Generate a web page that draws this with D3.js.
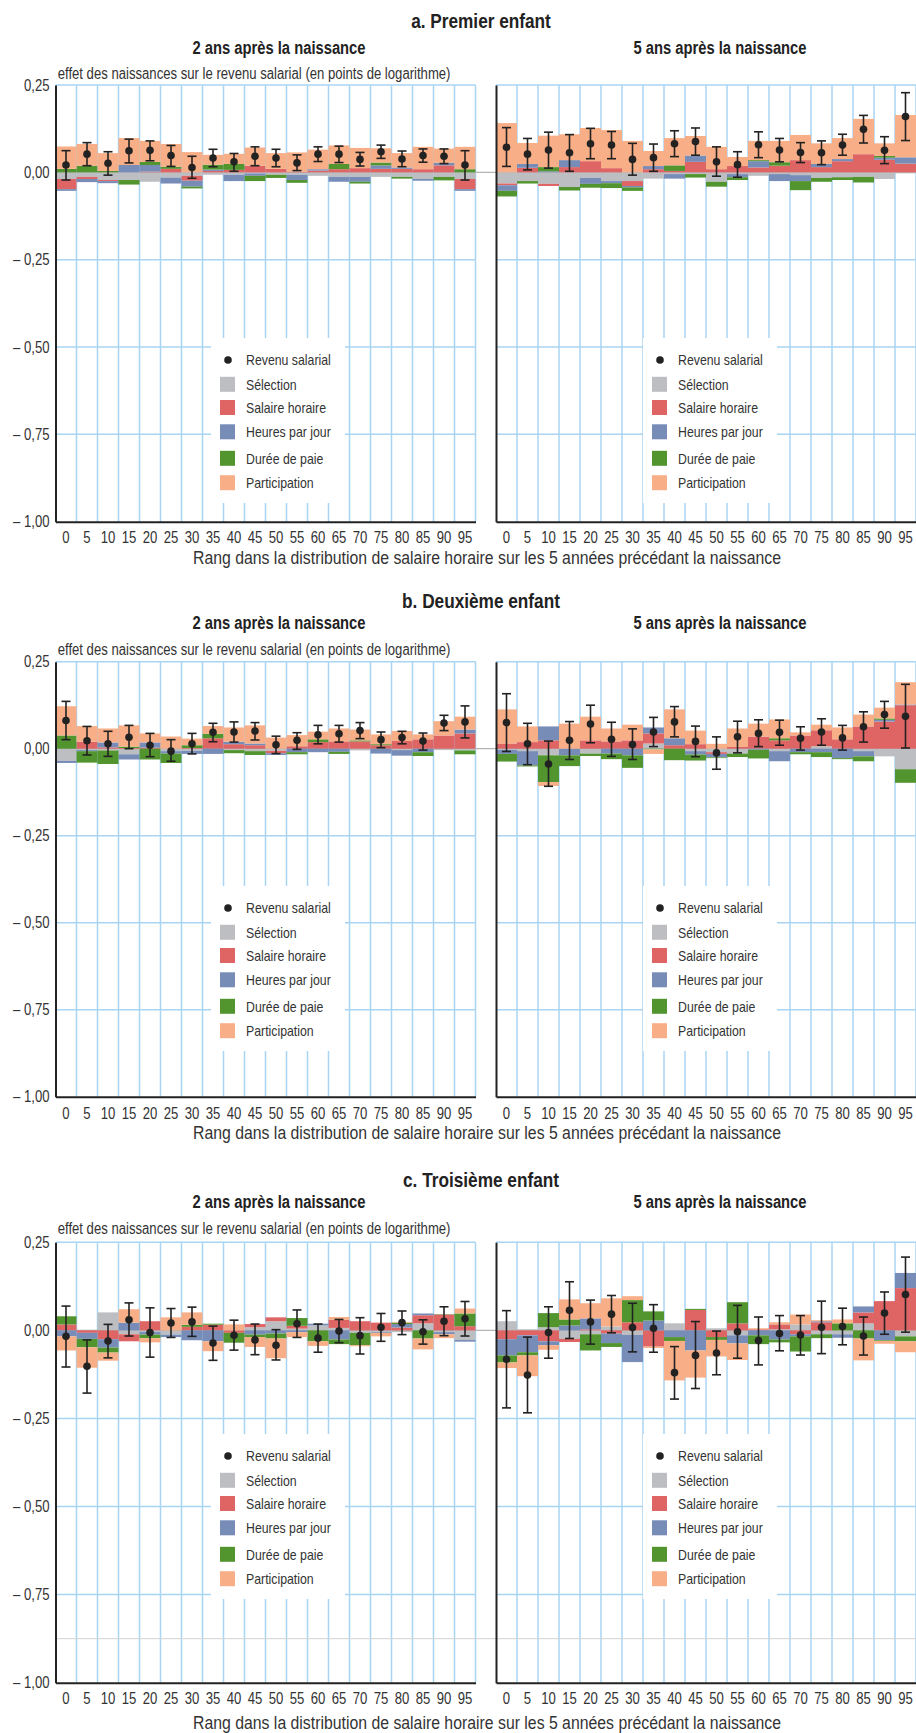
<!DOCTYPE html>
<html lang="fr">
<head>
<meta charset="utf-8">
<script src="https://cdn.jsdelivr.net/npm/d3@7"></script>
<style>
  body { margin: 0; background: #fff; }
  svg text { font-family: "Liberation Sans", Arial, sans-serif; fill: #333; }
</style>
</head>
<body>
<svg id="chart" width="916" height="1733"></svg>
<script>
// Rangs (percentiles) de salaire horaire
const ranks = [0, 5, 10, 15, 20, 25, 30, 35, 40, 45, 50, 55, 60, 65, 70, 75, 80, 85, 90, 95];
const yTicks = [0.25, 0, -0.25, -0.5, -0.75, -1];
const rowTitles = ["a. Premier enfant", "b. Deuxième enfant", "c. Troisième enfant"];
const horizonTitles = ["2 ans après la naissance", "5 ans après la naissance"];
const componentKeys = ["sel", "sal", "heu", "dur", "par"];
const componentNames = ["Sélection", "Salaire horaire", "Heures par jour", "Durée de paie", "Participation"];
const componentColors = ["#bdbec2", "#df6464", "#788cb8", "#52952f", "#f8ae86"];

// a. Premier enfant, 2 ans après
const a2Sel = [-0.019,-0.013,-0.022,-0.022,-0.027,-0.015,-0.010,-0.007,-0.007,-0.003,-0.007,-0.007,-0.010,-0.013,-0.013,-0.013,-0.013,-0.019,-0.013,-0.019];
const a2Sal = [-0.029,-0.006,-0.003,0,0.002,0.010,-0.014,0.004,0.007,0.019,0.010,0.002,0.005,0.009,0.012,0.010,0.010,0.009,0.020,-0.029];
const a2Heu = [-0.005,-0.009,-0.006,0.021,0.019,-0.017,-0.017,0.004,-0.018,-0.007,0,-0.015,0.004,-0.014,-0.014,0.010,0.004,-0.005,0.007,-0.005];
const a2Dur = [0.010,0.019,0.004,-0.013,0.009,0.006,-0.005,0.014,0.017,-0.015,-0.009,-0.008,0,0.015,-0.005,0.008,-0.005,0,-0.010,0.009];
const a2Par = [0.064,0.062,0.051,0.077,0.060,0.065,0.058,0.028,0.029,0.052,0.045,0.055,0.056,0.053,0.058,0.041,0.041,0.064,0.041,0.064];
const a2Rev = [0.021,0.052,0.026,0.062,0.063,0.048,0.014,0.041,0.030,0.046,0.041,0.027,0.052,0.052,0.037,0.059,0.038,0.048,0.046,0.021];
const a2Lo  = [-0.022,0.019,-0.008,0.027,0.033,0.017,-0.017,0.016,0.003,0.019,0.016,0.005,0.031,0.028,0.018,0.040,0.016,0.029,0.025,-0.022];
const a2Hi  = [0.062,0.085,0.059,0.095,0.090,0.077,0.046,0.066,0.054,0.073,0.066,0.050,0.073,0.075,0.057,0.078,0.061,0.067,0.067,0.062];

// a. Premier enfant, 5 ans après
const a5Sel = [-0.032,-0.025,-0.033,-0.042,-0.016,-0.025,-0.025,-0.018,-0.005,-0.005,-0.027,-0.005,-0.010,-0.005,-0.008,-0.016,-0.014,-0.013,-0.019,-0.003];
const a5Sal = [-0.005,0.013,-0.006,0.015,0.032,0.012,-0.014,0.009,0.004,0.030,0.009,0.018,0.014,0.019,0.035,0.015,0.032,0.052,0.036,0.025];
const a5Heu = [-0.016,0.011,0.003,0.020,-0.017,-0.006,-0.004,0.009,-0.013,0.018,0,-0.009,0.018,-0.020,-0.017,0.009,0.006,0,0.006,0.018];
const a5Dur = [-0.016,-0.007,0.012,-0.010,-0.011,-0.014,-0.010,0,0.016,-0.010,-0.014,-0.008,0.003,0.010,-0.026,-0.011,-0.008,-0.016,0.005,0];
const a5Par = [0.141,0.060,0.090,0.074,0.095,0.109,0.090,0.043,0.078,0.056,0.064,0.026,0.055,0.061,0.072,0.059,0.060,0.101,0.036,0.121];
const a5Rev = [0.072,0.052,0.064,0.056,0.082,0.078,0.037,0.042,0.082,0.088,0.030,0.022,0.079,0.064,0.057,0.056,0.078,0.123,0.063,0.160];
const a5Lo  = [0.017,0.007,0.012,0.003,0.039,0.039,-0.008,0.003,0.045,0.049,-0.011,-0.014,0.042,0.030,0.028,0.022,0.049,0.084,0.025,0.091];
const a5Hi  = [0.128,0.097,0.115,0.108,0.126,0.117,0.083,0.081,0.119,0.127,0.073,0.059,0.116,0.097,0.085,0.090,0.109,0.163,0.102,0.228];

// b. Deuxième enfant, 2 ans après
const b2Sel = [-0.035,-0.004,-0.005,-0.016,0,-0.007,-0.006,0,-0.004,-0.007,-0.006,0,0,0,-0.005,0,-0.004,0,-0.004,-0.005];
const b2Sal = [0,0.020,0.004,0.002,0.003,0,0.002,0.030,0.013,0.010,-0.007,0.007,0.019,0.021,0.021,0.010,0.022,0.027,0.038,0.044];
const b2Heu = [-0.006,-0.003,0.014,-0.015,0.015,-0.007,-0.009,-0.015,0.007,0.005,-0.005,-0.010,-0.010,-0.009,0,-0.014,-0.016,-0.010,0,0.011];
const b2Dur = [0.038,-0.033,-0.039,0.004,-0.031,-0.027,0.008,0.013,-0.009,-0.011,0,-0.006,0.008,-0.006,0.003,0.003,0,-0.011,0,-0.011];
const b2Par = [0.084,0.045,0.040,0.061,0.026,0.035,0.019,0.022,0.041,0.052,0.032,0.032,0.022,0.037,0.031,0.028,0.029,0.014,0.041,0.037];
const b2Rev = [0.081,0.023,0.014,0.033,0.010,-0.007,0.014,0.047,0.048,0.051,0.011,0.024,0.040,0.043,0.052,0.026,0.032,0.022,0.074,0.077];
const b2Lo  = [0.026,-0.018,-0.022,0.000,-0.023,-0.036,-0.015,0.020,0.019,0.025,-0.014,-0.002,0.014,0.019,0.029,0.003,0.014,-0.004,0.052,0.031];
const b2Hi  = [0.136,0.064,0.050,0.067,0.044,0.026,0.044,0.073,0.077,0.075,0.036,0.046,0.067,0.067,0.075,0.048,0.050,0.045,0.096,0.123];

// b. Deuxième enfant, 5 ans après
const b5Sel = [-0.003,-0.007,-0.019,0,-0.014,0,0,0.015,0,-0.007,-0.010,-0.014,0,-0.007,0,0.007,0,-0.007,-0.022,-0.059];
const b5Sal = [0.015,0.019,0.024,0,0.024,0.021,0.024,0.029,0.010,0.013,-0.005,0.005,0.035,0.024,0.038,0.046,0.027,0.064,0.078,0.125];
const b5Heu = [-0.012,-0.041,0.040,-0.019,0,-0.014,-0.019,0.017,0.020,-0.010,-0.010,0,-0.003,-0.029,-0.010,-0.010,-0.027,-0.015,0.005,0.002];
const b5Dur = [-0.022,-0.003,-0.077,-0.031,-0.007,-0.016,-0.036,-0.002,-0.033,-0.017,-0.002,-0.010,-0.025,0.006,-0.006,-0.014,-0.003,-0.014,0.004,-0.039];
const b5Par = [0.098,0.045,-0.011,0.072,0.068,0.037,0.045,-0.013,0.083,0.039,0.014,0.053,0.037,0.054,0.009,0.016,0.034,0.034,0.031,0.064];
const b5Rev = [0.075,0.014,-0.044,0.024,0.071,0.027,0.012,0.048,0.077,0.021,-0.012,0.034,0.044,0.047,0.030,0.048,0.031,0.063,0.098,0.093];
const b5Lo  = [-0.008,-0.046,-0.108,-0.031,0.017,-0.022,-0.031,0.006,0.034,-0.023,-0.059,-0.012,0.006,0.010,-0.004,0.010,-0.004,0.019,0.059,0.002];
const b5Hi  = [0.158,0.073,0.022,0.078,0.125,0.076,0.057,0.090,0.121,0.065,0.034,0.079,0.083,0.082,0.063,0.086,0.067,0.106,0.136,0.185];

// c. Troisième enfant, 2 ans après
const c2Sel = [0,0,0.051,-0.011,-0.004,-0.012,0,0,0,0.009,0.026,0.005,0.014,0.007,-0.007,-0.004,-0.005,0.020,-0.005,-0.027];
const c2Sal = [0.017,-0.007,-0.025,-0.020,0.026,0,0.010,0.016,-0.007,0.009,0.011,0.008,0,0.023,0.026,0.022,0.008,0.023,0.045,0.012];
const c2Heu = [-0.017,-0.017,-0.024,0.022,-0.008,-0.007,-0.028,-0.031,0,-0.012,-0.009,-0.005,0.005,-0.026,0,-0.003,0.010,0.005,-0.006,-0.005];
const c2Dur = [0.023,-0.024,-0.014,0,-0.010,0,0.006,0.003,-0.028,-0.007,-0.014,0.022,-0.031,-0.013,-0.035,0,0.004,-0.023,0.001,0.036];
const c2Par = [-0.040,-0.058,-0.023,0.038,-0.012,0.037,0.035,-0.028,0.017,-0.028,-0.056,-0.014,-0.013,0.008,-0.003,-0.010,0.002,-0.031,-0.011,0.014];
const c2Rev = [-0.017,-0.102,-0.030,0.030,-0.006,0.021,0.024,-0.036,-0.014,-0.027,-0.042,0.019,-0.022,-0.002,-0.015,0.009,0.022,-0.004,0.026,0.033];
const c2Lo  = [-0.104,-0.178,-0.078,-0.016,-0.076,-0.020,-0.017,-0.085,-0.056,-0.069,-0.084,-0.020,-0.062,-0.035,-0.067,-0.031,-0.012,-0.039,-0.015,-0.016];
const c2Hi  = [0.069,-0.027,0.017,0.078,0.064,0.062,0.066,0.012,0.029,0.018,0.002,0.058,0.018,0.031,0.036,0.048,0.055,0.030,0.067,0.082];

// c. Troisième enfant, 5 ans après
const c5Sel = [0.026,0.003,0.009,-0.024,-0.011,0.011,-0.013,0,0.020,0,0.006,-0.014,0,0.003,0.017,-0.011,-0.011,0.020,0,-0.017];
const c5Sal = [-0.025,-0.014,-0.031,-0.009,0.003,-0.009,0.023,-0.046,0,0.058,-0.019,0.020,0.003,0.014,-0.011,0.023,0,0.031,0.083,0.120];
const c5Heu = [-0.046,-0.048,-0.011,0.014,0.031,-0.027,-0.077,0.028,-0.019,-0.057,0,-0.023,-0.014,-0.026,-0.006,0.003,-0.010,0.017,-0.028,0.043];
const c5Dur = [-0.020,-0.009,0.040,0.017,-0.046,-0.011,0.063,0.026,-0.011,0.003,-0.008,0.060,-0.025,-0.008,-0.043,-0.011,0.020,-0.023,-0.002,-0.014];
const c5Par = [-0.016,-0.059,-0.013,0.057,0.043,0.080,0.011,-0.004,-0.112,-0.077,-0.047,-0.047,0.003,0.006,0.028,0.003,0.011,-0.062,-0.008,-0.031];
const c5Rev = [-0.082,-0.127,-0.006,0.057,0.024,0.046,0.008,0.006,-0.120,-0.071,-0.064,-0.004,-0.029,-0.009,-0.013,0.009,0.011,-0.016,0.049,0.102];
const c5Lo  = [-0.220,-0.234,-0.079,-0.023,-0.039,-0.007,-0.061,-0.062,-0.195,-0.165,-0.126,-0.079,-0.098,-0.058,-0.070,-0.066,-0.041,-0.070,-0.011,-0.005];
const c5Hi  = [0.056,-0.019,0.067,0.138,0.086,0.099,0.077,0.073,-0.046,0.025,-0.002,0.071,0.038,0.042,0.042,0.083,0.063,0.038,0.109,0.208];

// Assemble panel tables (row = enfant, col = horizon)
const panelSeries = [
  [[a2Sel, a2Sal, a2Heu, a2Dur, a2Par, a2Rev, a2Lo, a2Hi], [a5Sel, a5Sal, a5Heu, a5Dur, a5Par, a5Rev, a5Lo, a5Hi]],
  [[b2Sel, b2Sal, b2Heu, b2Dur, b2Par, b2Rev, b2Lo, b2Hi], [b5Sel, b5Sal, b5Heu, b5Dur, b5Par, b5Rev, b5Lo, b5Hi]],
  [[c2Sel, c2Sal, c2Heu, c2Dur, c2Par, c2Rev, c2Lo, c2Hi], [c5Sel, c5Sal, c5Heu, c5Dur, c5Par, c5Rev, c5Lo, c5Hi]]
];

// Page layout
const colX = [[55.5, 475.5], [496, 916]];
const rowLayout = [
  { top: 85,     bottom: 521.7,  title: 21,    sub: 48,   note: 73,   legend: 360, ticks: 537,  xtitle: 558 },
  { top: 661.7,  bottom: 1096.7, title: 600.5, sub: 623,  note: 649,  legend: 908, ticks: 1113, xtitle: 1133 },
  { top: 1242.3, bottom: 1682.7, title: 1180,  sub: 1202, note: 1228, legend: 1456, ticks: 1698, xtitle: 1723 }
];
const legendX = [211, 643];
const legendRowOffsets = [0, 24.3, 47.5, 71.8, 98.3, 122.7];

const gridBlue = "#a9d5f2";
const ink = "#222";

const svg = d3.select("#chart");
const fmt = d3.formatLocale({ decimal: ",", thousands: " ", grouping: [3], currency: ["", " €"], minus: "\u2013 " }).format(".2f");

const stack = d3.stack().keys(componentKeys).offset(d3.stackOffsetDiverging);

rowLayout.forEach((L, r) => {
  const y = d3.scaleLinear().domain([-1, 0.25]).range([L.bottom, L.top]);

  // Row title
  svg.append("text").attr("x", 481).attr("y", L.title).attr("dy", "0.35em")
    .attr("text-anchor", "middle").style("font-weight", "bold").style("font-size", "21px").style("fill", ink)
    .text(rowTitles[r]);

  [0, 1].forEach(c => {
    const [x0, x1] = colX[c];
    const series = panelSeries[r][c];
    const x = d3.scaleBand().domain(ranks).range([x0, x1]).padding(0);
    const g = svg.append("g");

    // Horizon subtitle
    svg.append("text").attr("x", c === 0 ? 279 : 720).attr("y", L.sub).attr("dy", "0.35em")
      .attr("text-anchor", "middle").style("font-weight", "bold").style("font-size", "18px").style("fill", ink)
      .text(horizonTitles[c]);

    // Grid: horizontal lines
    g.selectAll("line.hgrid").data(yTicks.filter(t => t !== 0 && t !== -1)).join("line")
      .attr("x1", x0).attr("x2", x1).attr("y1", d => y(d)).attr("y2", d => y(d))
      .attr("stroke", gridBlue).attr("stroke-width", 1.5);
    // Grid: vertical lines at each bin edge
    g.selectAll("line.vgrid").data(ranks).join("line")
      .attr("x1", d => x(d) + x.bandwidth()).attr("x2", d => x(d) + x.bandwidth())
      .attr("y1", L.top).attr("y2", L.bottom)
      .attr("stroke", gridBlue).attr("stroke-width", 1.5);

    if (r === 2) {
      g.append("line").attr("x1", x0 - (c === 1 ? 20 : 0)).attr("x2", x1)
        .attr("y1", y(-0.875)).attr("y2", y(-0.875))
        .attr("stroke", "#d4d4d4").attr("stroke-width", 1);
    }

    // Legend box hides the grid behind it
    const lx = legendX[c];
    const ly = L.legend;
    g.append("rect").attr("x", lx).attr("y", ly - 22).attr("width", 134).attr("height", 165).attr("fill", "#fff");

    // Zero reference line
    g.append("line").attr("x1", c === 0 ? x0 : x0 - 21).attr("x2", x1)
      .attr("y1", y(0)).attr("y2", y(0)).attr("stroke", "#b3b3b3").attr("stroke-width", 1.2);

    // Stacked decomposition bars
    const rows = ranks.map((rk, i) => {
      const o = { rank: rk };
      componentKeys.forEach((k, j) => { o[k] = series[j][i]; });
      return o;
    });
    const stacked = stack(rows);
    stacked.forEach((s, j) => {
      g.append("g").attr("fill", componentColors[j])
        .selectAll("rect").data(s).join("rect")
        .attr("x", d => x(d.data.rank))
        .attr("width", x.bandwidth())
        .attr("y", d => y(Math.max(d[0], d[1])))
        .attr("height", d => Math.abs(y(d[0]) - y(d[1])));
    });

    // Confidence intervals and total effect points
    const rev = series[5], lo = series[6], hi = series[7];
    const cx = d => x(d) + x.bandwidth() / 2;
    const eb = g.append("g").attr("stroke", ink).attr("stroke-width", 1.6);
    eb.selectAll("line.v").data(ranks).join("line")
      .attr("x1", cx).attr("x2", cx).attr("y1", (d, i) => y(lo[i])).attr("y2", (d, i) => y(hi[i]));
    eb.selectAll("line.lo").data(ranks).join("line")
      .attr("x1", d => cx(d) - 4.5).attr("x2", d => cx(d) + 4.5).attr("y1", (d, i) => y(lo[i])).attr("y2", (d, i) => y(lo[i]));
    eb.selectAll("line.hi").data(ranks).join("line")
      .attr("x1", d => cx(d) - 4.5).attr("x2", d => cx(d) + 4.5).attr("y1", (d, i) => y(hi[i])).attr("y2", (d, i) => y(hi[i]));
    g.append("g").attr("fill", ink).selectAll("circle").data(ranks).join("circle")
      .attr("cx", cx).attr("cy", (d, i) => y(rev[i])).attr("r", 3.8);

    // Axes
    const yAxis = d3.axisLeft(y).tickValues(yTicks).tickSize(0).tickSizeOuter(0).tickPadding(6).tickFormat(c === 0 ? fmt : () => "");
    const ya = svg.append("g").attr("transform", `translate(${x0},0)`).call(yAxis);
    ya.select(".domain").attr("stroke", ink).attr("stroke-width", 2);
    ya.selectAll("text").style("font-size", "16px").style("fill", "#333").attr("font-family", null);

    const xAxis = d3.axisBottom(x).tickSize(0).tickSizeOuter(0).tickPadding(0);
    const xa = svg.append("g").attr("transform", `translate(0,${L.bottom})`).call(xAxis);
    xa.select(".domain").attr("stroke", ink).attr("stroke-width", 2);
    xa.selectAll("text").attr("y", L.ticks - L.bottom).attr("dy", "0.35em").style("font-size", "16px").style("fill", "#333").attr("font-family", null);

    // Legend entries
    const le = svg.append("g");
    le.append("circle").attr("cx", lx + 17).attr("cy", ly + legendRowOffsets[0]).attr("r", 3.8).attr("fill", ink);
    le.append("text").attr("x", lx + 35).attr("y", ly + legendRowOffsets[0]).attr("dy", "0.35em")
      .style("font-size", "15px").text("Revenu salarial");
    componentNames.forEach((name, j) => {
      const yy = ly + legendRowOffsets[j + 1];
      le.append("rect").attr("x", lx + 9).attr("y", yy - 7.5).attr("width", 15).attr("height", 15).attr("fill", componentColors[j]);
      le.append("text").attr("x", lx + 35).attr("y", yy).attr("dy", "0.35em").style("font-size", "15px").text(name);
    });
  });

  // Y-axis note and x-axis title
  svg.append("text").attr("x", 57.7).attr("y", L.note).attr("dy", "0.35em").style("font-size", "16px")
    .text("effet des naissances sur le revenu salarial (en points de logarithme)");
  svg.append("text").attr("class", "xtitle").attr("x", 487).attr("y", L.xtitle).attr("dy", "0.35em").attr("text-anchor", "middle").style("font-size", "17.5px")
    .text("Rang dans la distribution de salaire horaire sur les 5 années précédant la naissance");
});

// Narrow typeface: condense every label horizontally
svg.selectAll("text").each(function () {
  const w = this.getComputedTextLength();
  if (w > 0) d3.select(this).attr("textLength", (w * 0.82).toFixed(1)).attr("lengthAdjust", "spacingAndGlyphs");
});
svg.selectAll("text.xtitle").attr("textLength", 588);
</script>
</body>
</html>
